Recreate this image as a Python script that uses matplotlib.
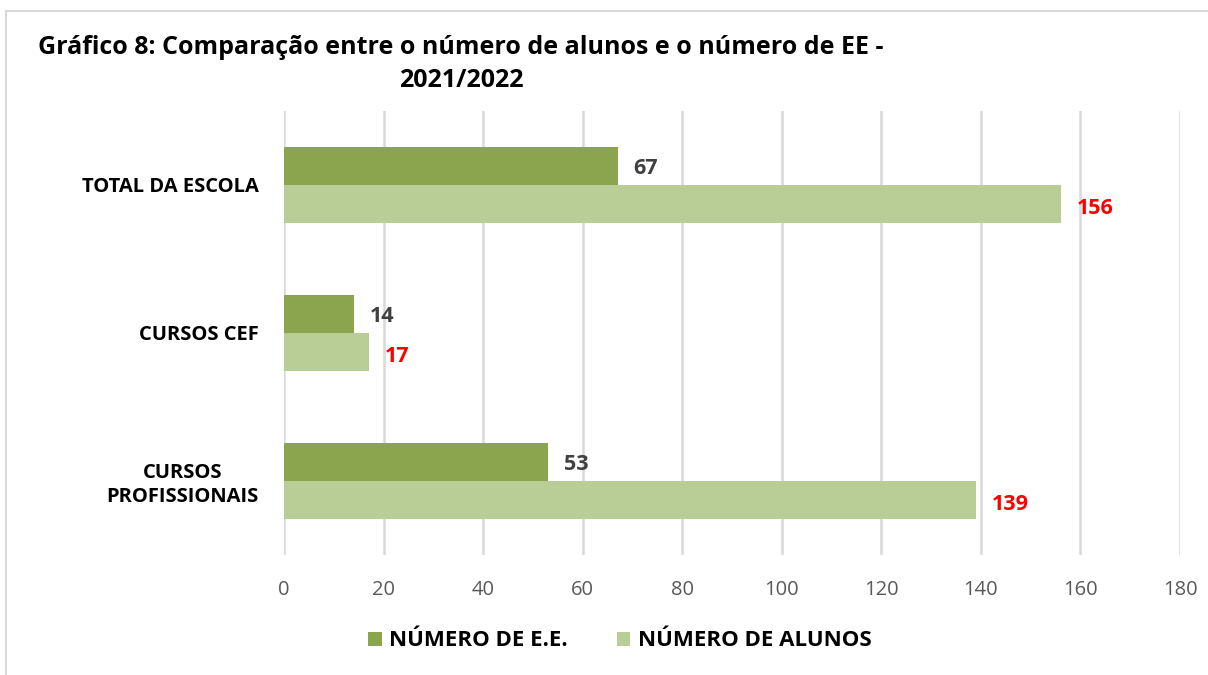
import matplotlib.pyplot as plt
import numpy as np

plt.rcParams['font.family'] = ['Open Sans', 'DejaVu Sans']

categorias = ['CURSOS\nPROFISSIONAIS', 'CURSOS CEF', 'TOTAL DA ESCOLA']
num_ee = [53, 14, 67]
num_alunos = [139, 17, 156]
series = ['NÚMERO DE E.E.', 'NÚMERO DE ALUNOS']

cor_ee = '#8AA54E'
cor_alunos = '#B9CE97'

fig = plt.figure(figsize=(12.08, 6.75), dpi=100)
ax = fig.add_axes([284 / 1208, 1 - 555 / 675, 896 / 1208, 444 / 675])

y = np.arange(len(categorias))
h = 0.26
b1 = ax.barh(y + h / 2, num_ee, height=h, color=cor_ee, label=series[0], zorder=3)
b2 = ax.barh(y - h / 2, num_alunos, height=h, color=cor_alunos, label=series[1], zorder=3)

for rect, v in zip(b1, num_ee):
    ax.text(v + 3.2, rect.get_y() + rect.get_height() / 2 - 0.02, str(v), va='center', ha='left',
            fontsize=15.5, fontweight='bold', color='#404040')
for rect, v in zip(b2, num_alunos):
    ax.text(v + 3.2, rect.get_y() + rect.get_height() / 2 - 0.03, str(v), va='center', ha='left',
            fontsize=15.5, fontweight='bold', color='#FF0000')

ax.set_xlim(0, 180)
ax.set_ylim(-0.5, 2.5)
ax.set_xticks(np.arange(0, 181, 20))
ax.set_yticks(y)
ax.set_yticklabels(categorias, fontsize=14.5, fontweight='bold', color='black', multialignment='center')
ax.tick_params(axis='x', length=0, labelsize=14.5, labelcolor='#595959', pad=18)
ax.tick_params(axis='y', length=0, pad=18)
ax.grid(axis='x', color='#D9D9D9', linewidth=1.8, zorder=0)
for s in ax.spines.values():
    s.set_visible(False)

fig.text(461 / 1208, 1 - 64 / 675, 'Gráfico 8: Comparação entre o número de alunos e o número de EE -\n2021/2022',
         ha='center', va='center', fontsize=18, fontweight='bold', linespacing=1.38)

fig.legend(loc='center', bbox_to_anchor=(620 / 1208, 1 - 641 / 675), ncol=2, frameon=False,
           prop={'size': 16, 'weight': 'bold'}, handlelength=0.6, handleheight=0.6,
           handletextpad=0.35, columnspacing=2.2)

# moldura (só topo e lado esquerdo visíveis)
fig.add_artist(plt.Line2D([6 / 1208, 1], [1 - 11 / 675, 1 - 11 / 675], color='#D9D9D9', linewidth=1.5))
fig.add_artist(plt.Line2D([6 / 1208, 6 / 1208], [0, 1 - 11 / 675], color='#D9D9D9', linewidth=1.5))

fig.savefig('out.png', dpi=100)
